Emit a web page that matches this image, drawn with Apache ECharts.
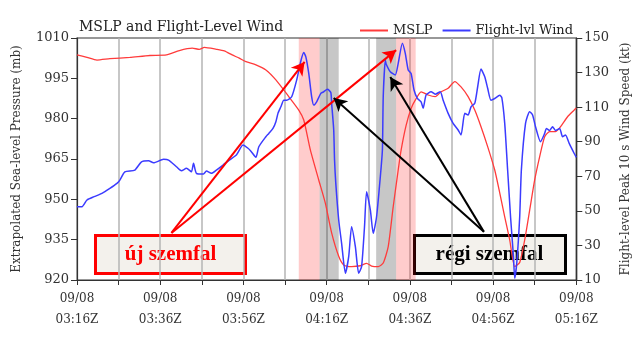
<!DOCTYPE html>
<html><head><meta charset="utf-8">
<script src="https://cdn.jsdelivr.net/npm/echarts@6/dist/echarts.min.js"></script>
<style>html,body{margin:0;padding:0;background:#fff}#c{width:640px;height:341px}</style>
</head><body><div id="c"></div>
<script>
// minutes after 09/08 03:16Z
const mslpMinutes = [0,2.4,4.8,7.9,12.7,17.5,21.5,24.6,27.7,29.4,30.6,33.5,35.4,37.3,39.0,40.6,43.0,45.4,47.8,50.9,53.3,54.5,56.1,58.1,59.7,61.2,62.9,64.1,66.0,68.1,69.6,70.8,72.4,73.6,74.8,76.0,77.2,77.9,79.1,80.3,81.3,82.7,84.4,86.1,87.5,89.2,90.8,92.3,94.0,95.6,97.1,98.7,100.4,101.6,102.8,104.0,105.2,106.4,107.6,108.8,110.0,111.2,112.4,113.6,115.0,116.2,117.9,119.5,120];
const mslpValues = [1003.7,1002.8,1001.8,1002.3,1002.8,1003.5,1003.7,1005.3,1006.2,1005.8,1006.5,1005.8,1005.2,1003.7,1002.5,1001.2,1000.0,998.1,994.4,988.2,983.2,979.5,968.3,957.2,948.5,937.5,928.8,925.6,925.0,925.3,926.2,925.2,925.0,926.3,932.4,947.3,960.9,968.3,977.5,983.8,986.9,990.0,988.8,988.2,990.0,991.3,993.8,991.8,988.2,983.2,977.0,969.6,960.9,952.4,943.5,934.9,925.0,926.5,934.9,946.0,957.2,965.9,973.3,975.2,975.2,977.0,980.7,983.2,984.0];
const windMinutes = [0,1.2,2.4,4.1,6.0,7.9,9.6,10.3,11.5,13.9,15.5,17.2,18.4,20.8,22.0,23.9,25.1,26.3,27.5,28.0,28.7,30.4,31.1,32.3,33.5,35.1,36.6,38.3,39.9,41.1,41.8,43.0,43.7,45.4,46.1,47.1,47.8,48.3,49.0,49.7,50.4,51.6,52.8,53.8,54.5,55.0,55.7,56.4,56.9,57.6,58.6,59.3,60.2,61.0,61.2,61.7,61.9,62.2,62.9,63.6,64.5,65.3,66.0,66.9,67.7,68.4,69.1,69.6,70.5,71.2,72.0,72.9,73.4,73.6,74.1,74.3,75.3,76.5,77.2,78.2,78.9,79.6,80.3,81.0,81.8,82.7,83.2,83.9,85.1,86.1,87.3,88.0,89.2,90.4,91.6,92.3,93.2,94.0,94.7,95.6,96.3,97.1,98.0,98.7,99.5,100.4,101.6,102.1,102.8,103.5,104.2,104.9,105.2,105.7,106.4,106.8,107.8,108.8,109.5,110.2,111.4,112.4,112.8,113.6,114.3,115.0,116.0,116.7,117.4,118.3,119.5,120];
const windValues = [52.4,52.4,56.3,58.2,60.1,63.0,65.9,67.8,72.6,73.6,78.4,79.0,77.8,79.8,79.4,75.5,73.2,74.6,72.6,77.5,71.7,71.3,73.0,71.7,73.6,76.5,79.4,82.3,88.1,86.2,84.5,81.0,87.1,92.9,94.8,97.7,101.6,106.4,110.2,114.0,114.0,116.0,125.7,136.7,141.6,139.1,129.5,116.0,111.2,113.1,118.0,118.9,120.3,118.5,112.2,96.8,79.4,65.9,44.7,31.2,13.9,23.5,40.8,29.3,13.9,17.7,40.8,61.1,50.5,37.0,46.6,69.7,85.2,116.0,137.2,135.0,130.5,128.6,135.3,147.0,141.1,131.5,129.5,119.9,115.1,113.1,109.3,117.0,118.9,117.5,118.9,114.0,106.4,100.6,96.8,93.9,106.4,105.5,110.2,112.2,121.8,132.0,127.6,120.9,114.0,115.0,116.9,115.5,100.6,73.6,46.6,23.5,11.0,20.0,46.6,73.6,100.6,107.4,105.5,98.7,90.0,94.8,97.7,96.5,98.7,96.5,97.7,92.9,93.9,89.0,83.2,81.0];
const xTickValues = [0,20,40,60,80,100,120];
const xTickLabels = ["09/08\n03:16Z","09/08\n03:36Z","09/08\n03:56Z","09/08\n04:16Z","09/08\n04:36Z","09/08\n04:56Z","09/08\n05:16Z"];
const leftTicks = [920,935,950,965,980,995,1010];
const rightTicks = [10,30,50,70,90,110,130,150];
const newWallSpans = [[53.3,58.3],[76.7,81.4]];
const oldWallSpans = [[58.3,62.9],[71.9,76.7]];
// arrows: [startMinute, startMb, endMinute, endMb]
const newWallArrows = [[22.7,937.5,54.7,1001.1],[22.7,937.5,76.7,1005.5]];
const oldWallArrows = [[97.8,937.9,61.7,987.7],[97.8,937.9,75.3,995.5]];
const newWallLabel = "új szemfal";
const oldWallLabel = "régi szemfal";

const serif = "DejaVu Serif";
const chart = echarts.init(document.getElementById('c'), null, {renderer:'canvas'});
const toPairs = (xs, ys) => xs.map((x,i)=>[x, ys[i]]);
const areas = [];
newWallSpans.forEach(s=>areas.push([{xAxis:s[0], itemStyle:{color:'rgba(255,0,0,0.2)'}},{xAxis:s[1]}]));
oldWallSpans.forEach(s=>areas.push([{xAxis:s[0], itemStyle:{color:'rgba(0,0,0,0.22)'}},{xAxis:s[1]}]));
const arrowLines = [];
newWallArrows.forEach(a=>arrowLines.push([{coord:[a[0],a[1]], lineStyle:{color:'#ff0000'}, itemStyle:{color:'#ff0000'}},{coord:[a[2],a[3]]}]));
oldWallArrows.forEach(a=>arrowLines.push([{coord:[a[0],a[1]], lineStyle:{color:'#000000'}, itemStyle:{color:'#000000'}},{coord:[a[2],a[3]]}]));

chart.setOption({
  animation:false,
  backgroundColor:'#fff',
  title:{text:'MSLP and Flight-Level Wind', left:74, top:15, textStyle:{fontFamily:serif, fontSize:14, fontWeight:'normal', color:'#222'}},
  legend:{right:62, top:19, itemWidth:28, itemHeight:2, itemGap:10, icon:'rect',
    textStyle:{fontFamily:serif, fontSize:13, color:'#222'},
    data:['MSLP','Flight-lvl Wind']},
  grid:{left:77, right:61, top:38, bottom:61, show:true, borderColor:'#333', borderWidth:1.2, backgroundColor:'transparent'},
  xAxis:{type:'value', min:0, max:120, interval:10,
    axisLine:{show:true, lineStyle:{color:'#333', width:1.2}},
    axisTick:{show:true, length:5, lineStyle:{color:'#333'}},
    splitLine:{show:true, lineStyle:{color:'#b5b5b5', width:1.5}},
    axisLabel:{customValues:xTickValues, margin:8, lineHeight:21, fontFamily:serif, fontSize:12, color:'#333',
      formatter:v=>{const i=xTickValues.indexOf(v); return i>=0?xTickLabels[i]:'';}}},
  yAxis:[
    {type:'value', min:920, max:1010, position:'left',
      name:'Extrapolated Sea-level Pressure (mb)', nameLocation:'middle', nameGap:54,
      nameTextStyle:{fontFamily:serif, fontSize:12, color:'#333'},
      axisLine:{show:true, lineStyle:{color:'#333', width:1.2}},
      axisTick:{show:true, length:6, customValues:leftTicks, lineStyle:{color:'#333'}},
      axisLabel:{customValues:leftTicks, fontFamily:serif, fontSize:13, color:'#333', margin:8, formatter:v=>String(v)},
      splitLine:{show:false}},
    {type:'value', min:10, max:150, position:'right',
      name:'Flight-level Peak 10 s Wind Speed (kt)', nameLocation:'middle', nameGap:40,
      nameTextStyle:{fontFamily:serif, fontSize:12, color:'#333'},
      axisLine:{show:true, lineStyle:{color:'#333', width:1.2}},
      axisTick:{show:true, length:6, customValues:rightTicks, lineStyle:{color:'#333'}},
      axisLabel:{customValues:rightTicks, fontFamily:serif, fontSize:13, color:'#333', margin:8, formatter:v=>String(v)},
      splitLine:{show:false}}
  ],
  series:[
    {name:'MSLP', type:'line', yAxisIndex:0, data:toPairs(mslpMinutes, mslpValues), showSymbol:false, smooth:0.2,
      lineStyle:{color:'#ff3b3b', width:1.3}, itemStyle:{color:'#ff3b3b'}, z:3,
      markLine:{silent:true, symbol:['none','arrow'], symbolSize:[11,13], label:{show:false}, lineStyle:{type:'solid', width:2}, data:arrowLines, z:5}},
    {name:'Flight-lvl Wind', type:'line', yAxisIndex:1, data:toPairs(windMinutes, windValues), showSymbol:false, smooth:0.2,
      lineStyle:{color:'#3b3bff', width:1.5}, itemStyle:{color:'#3b3bff'}, z:3,
      markArea:{silent:true, data:areas}}
  ],
  graphic:[
    {type:'group', left:94, top:234, z:100, children:[
      {type:'rect', shape:{x:0,y:0,width:150,height:38}, style:{fill:'#f3f1ec', stroke:'#ff0000', lineWidth:3}},
      {type:'text', x:75, y:19, style:{text:newWallLabel, fill:'#ff0000', font:'bold 21px "Liberation Serif"', align:'center', verticalAlign:'middle'}}
    ]},
    {type:'group', left:413, top:234, z:100, children:[
      {type:'rect', shape:{x:0,y:0,width:151,height:38}, style:{fill:'#f3f1ec', stroke:'#000000', lineWidth:3}},
      {type:'text', x:75, y:19, style:{text:oldWallLabel, fill:'#000000', font:'bold 21px "Liberation Serif"', align:'center', verticalAlign:'middle'}}
    ]}
  ]
});
</script></body></html>
